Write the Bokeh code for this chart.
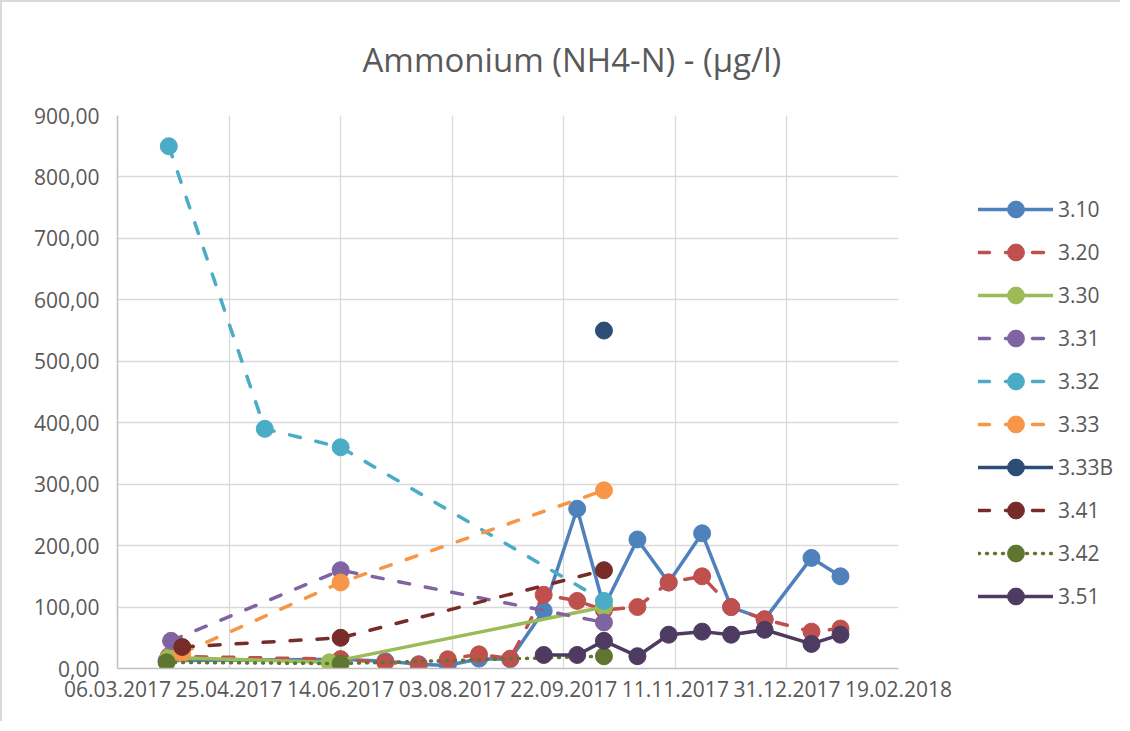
import pandas as pd
from bokeh.plotting import figure
from bokeh.layouts import row
from bokeh.models import (ColumnDataSource, FixedTicker, DatetimeTickFormatter,
                          CustomJSTickFormatter, Legend, LegendItem, Title, Range1d)
from bokeh.embed import file_html
from bokeh.resources import INLINE

TITLE = "Ammonium (NH4-N) - (µg/l)"

x_tick_labels = ["06.03.2017", "25.04.2017", "14.06.2017", "03.08.2017",
                 "22.09.2017", "11.11.2017", "31.12.2017", "19.02.2018"]
y_ticks = [0, 100, 200, 300, 400, 500, 600, 700, 800, 900]

series_names = ["3.10", "3.20", "3.30", "3.31", "3.32", "3.33", "3.33B", "3.41", "3.42", "3.51"]

s310_dates = ["28.03.2017", "14.06.2017", "04.07.2017", "19.07.2017", "01.08.2017", "15.08.2017",
              "29.08.2017", "13.09.2017", "28.09.2017", "10.10.2017", "25.10.2017", "08.11.2017",
              "23.11.2017", "06.12.2017", "21.12.2017", "11.01.2018", "24.01.2018"]
s310_vals = [13, 15, 12, 7, 5, 16, 15, 94, 260, 100, 210, 140, 220, 100, 80, 180, 150]

s320_dates = ["29.03.2017", "14.06.2017", "04.07.2017", "19.07.2017", "01.08.2017", "15.08.2017",
              "29.08.2017", "13.09.2017", "28.09.2017", "10.10.2017", "25.10.2017", "08.11.2017",
              "23.11.2017", "06.12.2017", "21.12.2017", "11.01.2018", "24.01.2018"]
s320_vals = [20, 15, 10, 6, 15, 23, 16, 120, 110, 95, 100, 140, 150, 100, 80, 60, 65]

s330_dates = ["29.03.2017", "09.06.2017", "10.10.2017"]
s330_vals = [18, 10, 100]

s331_dates = ["30.03.2017", "14.06.2017", "10.10.2017"]
s331_vals = [45, 160, 75]

s332_dates = ["29.03.2017", "11.05.2017", "14.06.2017", "10.10.2017"]
s332_vals = [850, 390, 360, 110]

s333_dates = ["04.04.2017", "14.06.2017", "10.10.2017"]
s333_vals = [25, 140, 290]

s333b_dates = ["10.10.2017"]
s333b_vals = [550]

s341_dates = ["04.04.2017", "14.06.2017", "10.10.2017"]
s341_vals = [35, 50, 160]

s342_dates = ["28.03.2017", "14.06.2017", "10.10.2017"]
s342_vals = [10, 8, 20]

s351_dates = ["13.09.2017", "28.09.2017", "10.10.2017", "25.10.2017", "08.11.2017", "23.11.2017",
              "06.12.2017", "21.12.2017", "11.01.2018", "24.01.2018"]
s351_vals = [22, 22, 45, 20, 55, 60, 55, 63, 40, 55]

series_dates = [s310_dates, s320_dates, s330_dates, s331_dates, s332_dates,
                s333_dates, s333b_dates, s341_dates, s342_dates, s351_dates]
series_vals = [s310_vals, s320_vals, s330_vals, s331_vals, s332_vals,
               s333_vals, s333b_vals, s341_vals, s342_vals, s351_vals]

colors = ["#4F81BD", "#C0504D", "#9BBB59", "#8064A2", "#4BACC6",
          "#F79646", "#2C4D75", "#772C2A", "#5F7530", "#4D3B62"]
dashes = ["solid", "11 16", "solid", "11 16", "11 16",
          "11 16", "solid", "11 16", "1 7", "solid"]

FONT = "Open Sans"
TXT = "#595959"


def to_dt(lst):
    return pd.to_datetime(lst, format="%d.%m.%Y")


tick_dt = to_dt(x_tick_labels)
tick_ms = [t.timestamp() * 1000.0 for t in tick_dt]

p = figure(width=958, height=721, x_axis_type="datetime",
           x_range=Range1d(start=tick_dt[0].to_pydatetime(), end=tick_dt[-1].to_pydatetime()),
           y_range=Range1d(0, 900),
           output_backend="svg", toolbar_location=None,
           min_border_left=115, min_border_right=62,
           min_border_top=111, min_border_bottom=55)

p.outline_line_color = None
p.background_fill_color = "white"
p.border_fill_color = "white"

p.xaxis.ticker = FixedTicker(ticks=tick_ms)
fmt = "%d.%m.%Y"
p.xaxis.formatter = DatetimeTickFormatter(microseconds=fmt, milliseconds=fmt, seconds=fmt,
                                          minsec=fmt, minutes=fmt, hourmin=fmt, hours=fmt,
                                          days=fmt, months=fmt, years=fmt)
p.yaxis.ticker = FixedTicker(ticks=y_ticks)
p.yaxis.formatter = CustomJSTickFormatter(code="return tick.toFixed(2).replace('.', ',');")

for ax in (p.xaxis, p.yaxis):
    ax.major_tick_line_color = None
    ax.minor_tick_line_color = None
    ax.major_tick_out = 0
    ax.major_tick_in = 0
    ax.axis_line_color = "#BFBFBF"
    ax.axis_line_width = 1.5
    ax.major_label_text_font = FONT
    ax.major_label_text_font_size = "21px"
    ax.major_label_text_color = TXT
p.xaxis.major_label_standoff = 12
p.yaxis.major_label_standoff = 18

p.xgrid.grid_line_color = "#D9D9D9"
p.ygrid.grid_line_color = "#D9D9D9"
p.xgrid.grid_line_width = 1.3
p.ygrid.grid_line_width = 1.3

# chart-area border (top and left edges, as in the reference)
p.styles = {"border-top": "2px solid #D9D9D9", "border-left": "2px solid #D9D9D9"}

# separate legend panel figure
lg = figure(width=162, height=721, x_range=Range1d(0, 1), y_range=Range1d(0, 1),
            output_backend="svg", toolbar_location=None,
            min_border_left=0, min_border_right=0, min_border_top=0, min_border_bottom=0)
lg.axis.visible = False
lg.grid.visible = False
lg.outline_line_color = None
lg.background_fill_color = "white"
lg.border_fill_color = "white"
lg.styles = {"border-top": "2px solid #D9D9D9"}

items = []
for name, d, v, c, dash in zip(series_names, series_dates, series_vals, colors, dashes):
    src = ColumnDataSource(dict(x=to_dt(d), y=v))
    p.line("x", "y", source=src, line_color=c, line_width=3.5, line_dash=dash,
           line_cap="round", line_join="round")
    p.scatter("x", "y", source=src, size=17, fill_color=c, line_color=c, line_width=1)
    # legend sample glyphs (kept outside the visible range of the legend panel)
    lsrc = ColumnDataSource(dict(x=[-5.0], y=[-5.0]))
    rl = lg.line("x", "y", source=lsrc, line_color=c, line_width=3.5, line_dash=dash,
                 line_cap="round", line_join="round")
    rs = lg.scatter("x", "y", source=lsrc, size=17, fill_color=c, line_color=c, line_width=1)
    items.append(LegendItem(label=name, renderers=[rl, rs]))

legend = Legend(items=items, location=(20, 51), orientation="vertical",
                glyph_width=75, glyph_height=42, spacing=1, padding=0, margin=0,
                label_standoff=5, label_text_font=FONT, label_text_font_size="21px",
                label_text_color=TXT, border_line_color=None, background_fill_alpha=0)
lg.add_layout(legend, "center")

title = Title(text=TITLE, align="left", offset=245, standoff=66, vertical_align="middle",
              text_font=FONT, text_font_size="33px", text_color=TXT, text_font_style="normal")
p.add_layout(title, "above")

layout = row(p, lg, spacing=0)
open("out.html", "w").write(file_html(layout, INLINE))
